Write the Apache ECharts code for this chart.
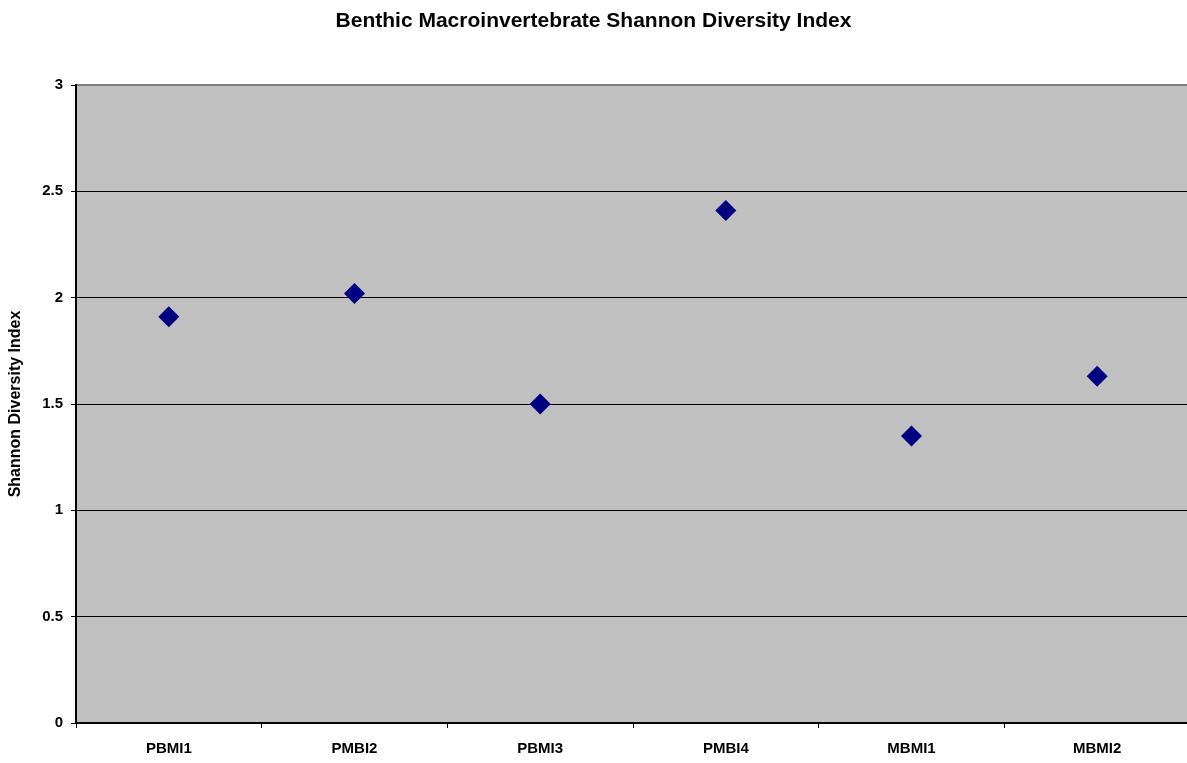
<!DOCTYPE html>
<html>
	<head>
		<meta charset="utf-8">
		<title>Shannon Diversity Index</title>
		<style>
			html, body { margin: 0; padding: 0; background: #fff; }
		</style>
	</head>
	<body>
		<!-- chart area -->
		<div id="container" style="width: 1187px;height:763px;"></div>
	</body>
	<script src="https://cdn.jsdelivr.net/npm/echarts@6/dist/echarts.min.js"></script>
	<script type="text/javascript">
		'use strict'
		// site names along the x axis
		var sites = ['PBMI1', 'PMBI2', 'PBMI3', 'PMBI4', 'MBMI1', 'MBMI2'];
		// Shannon diversity index per site
		var diversity = [1.91, 2.02, 1.50, 2.41, 1.35, 1.63];
		// y axis range
		var yMin = 0;
		var yMax = 3;
		var yStep = 0.5;

		var myCharts = echarts.init(document.getElementById('container'));
		var font = 'Liberation Sans, Arial, sans-serif';
		var option = {
			backgroundColor: '#ffffff',
			animation: false,
			title: {
				text: 'Benthic Macroinvertebrate Shannon Diversity Index',
				left: 'center',
				top: 6,
				textStyle: {
					color: '#000',
					fontSize: 21,
					fontWeight: 'bold',
					fontFamily: font
				}
			},
			grid: {
				show: true,
				left: 76,
				top: 85,
				right: -3,
				bottom: 40,
				outerBoundsMode: 'none',
				containLabel: false,
				backgroundColor: '#c0c0c0',
				borderColor: '#808080',
				borderWidth: 2
			},
			xAxis: {
				type: 'category',
				data: sites,
				boundaryGap: true,
				axisLine: { lineStyle: { color: '#000', width: 2 } },
				axisTick: { show: true, length: 5, inside: false, lineStyle: { color: '#000' } },
				axisLabel: {
					color: '#000',
					fontSize: 15,
					fontWeight: 'bold',
					fontFamily: font,
					margin: 18
				},
				splitLine: { show: false }
			},
			yAxis: {
				type: 'value',
				min: yMin,
				max: yMax,
				interval: yStep,
				name: 'Shannon Diversity Index',
				nameLocation: 'middle',
				nameGap: 52,
				nameTextStyle: {
					color: '#000',
					fontSize: 16,
					fontWeight: 'bold',
					fontFamily: font
				},
				axisLine: { show: true, lineStyle: { color: '#000', width: 2 } },
				axisTick: { show: true, length: 5, lineStyle: { color: '#000' } },
				axisLabel: {
					color: '#000',
					fontSize: 15,
					fontWeight: 'bold',
					fontFamily: font,
					margin: 13
				},
				splitLine: { show: true, showMaxLine: false, lineStyle: { color: '#000', width: 1.2 } }
			},
			series: [{
				type: 'scatter',
				data: diversity,
				symbol: 'diamond',
				symbolSize: [21, 21],
				itemStyle: { color: '#000080', opacity: 1 }
			}]
		};
		myCharts.setOption(option);
	</script>
</html>
